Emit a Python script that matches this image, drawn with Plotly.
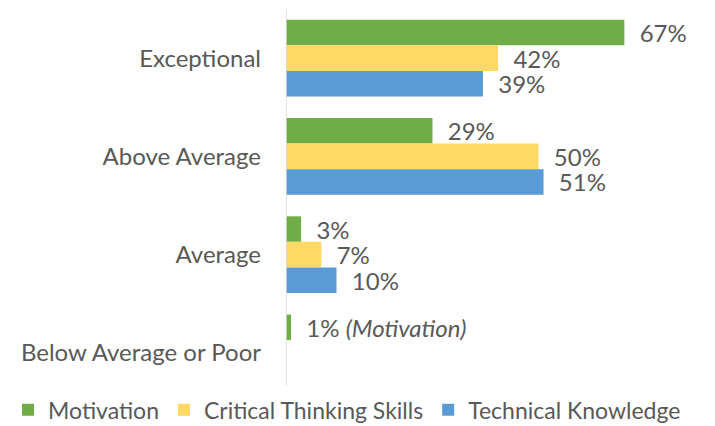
import plotly.graph_objects as go

categories = ["Exceptional", "Above Average", "Average", "Below Average or Poor"]
series_names = ["Motivation", "Critical Thinking Skills", "Technical Knowledge"]
motivation = [67, 29, 3, 1]
critical_thinking = [42, 50, 7, None]
technical_knowledge = [39, 51, 10, None]
colors = ["#70AD47", "#FFD966", "#5B9BD5"]

FONT = "Lato"
GREY = "#595959"
FS = 24

def labels(vals, name):
    out = []
    for c, v in zip(categories, vals):
        if v is None:
            out.append("")
        elif c == "Below Average or Poor":
            out.append("\u00a0\u00a0%d%% <i>(%s)</i>" % (v, name))
        else:
            out.append("\u00a0\u00a0%d%%" % v)
    return out

fig = go.Figure()
for name, vals, col in zip(series_names, [motivation, critical_thinking, technical_knowledge], colors):
    fig.add_trace(go.Bar(
        name=name, y=categories, x=vals, orientation="h",
        marker=dict(color=col, line=dict(width=0)),
        text=labels(vals, name), textposition="outside",
        textfont=dict(family=FONT, size=FS, color=GREY),
        constraintext="none", cliponaxis=False,
        hoverinfo="skip",
    ))

# page body has an 8px margin in the browser; figure is sized/offset to compensate
fig.update_layout(
    width=707, height=418,
    margin=dict(l=278, r=25, t=1, b=24, autoexpand=False),
    paper_bgcolor="white", plot_bgcolor="white",
    barmode="group", bargap=0.22, bargroupgap=0,
    font=dict(family=FONT, size=FS, color=GREY),
    xaxis=dict(range=[0, 80], visible=False, fixedrange=True),
    yaxis=dict(autorange="reversed", showline=False, showgrid=False,
               ticks="", ticklabelstandoff=24, automargin=False,
               tickfont=dict(family=FONT, size=FS, color=GREY)),
    legend=dict(orientation="h", x=-0.688, xanchor="left", y=-0.02, yanchor="middle",
                font=dict(family=FONT, size=23, color=GREY),
                itemwidth=30, traceorder="normal"),
    shapes=[dict(type="line", xref="x", yref="paper", x0=0, x1=0,
                 y0=0.04, y1=1, line=dict(color="#D9D9D9", width=1.5), layer="above")],
)

fig.write_html("out.html")
